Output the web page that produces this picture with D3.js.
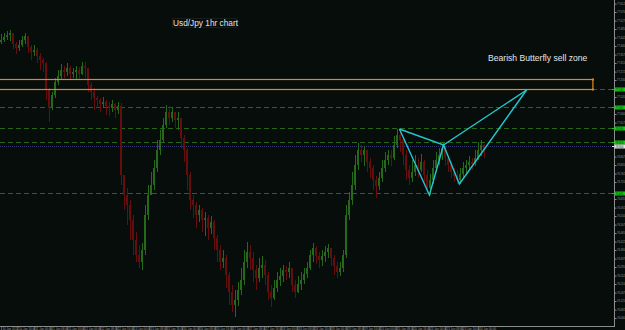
<!DOCTYPE html>
<html>
<head>
<meta charset="utf-8">
<style>
  body { margin: 0; background: #070d0b; }
  svg { display: block; font-family: 'Liberation Sans', Arial, sans-serif; }
</style>
</head>
<body>
<svg width="625" height="330"></svg>

<script src="https://d3js.org/d3.v7.min.js"></script>
<script>
// hourly bars
const firstOpen = 77.420;
const closes = [
  77.430, 77.445, 77.455, 77.465, 77.410, 77.390, 77.405, 77.430, 77.450, 77.395,
  77.370, 77.380, 77.350, 77.330, 77.315, 77.180, 77.090, 77.155, 77.220, 77.250,
  77.280, 77.270, 77.290, 77.260, 77.270, 77.280, 77.260, 77.300, 77.290, 77.205,
  77.170, 77.140, 77.130, 77.110, 77.120, 77.100, 77.090, 77.110, 77.080, 77.100,
  76.755, 76.655, 76.605, 76.530, 76.430, 76.355, 76.320, 76.380, 76.555, 76.655,
  76.705, 76.790, 76.880, 76.930, 77.005, 77.070, 77.040, 77.070, 77.030, 77.040,
  76.940, 76.880, 76.755, 76.630, 76.605, 76.555, 76.580, 76.530, 76.540, 76.490,
  76.520, 76.440, 76.380, 76.320, 76.340, 76.255, 76.170, 76.105, 76.130, 76.180,
  76.230, 76.320, 76.370, 76.340, 76.280, 76.240, 76.290, 76.305, 76.255, 76.170,
  76.140, 76.190, 76.230, 76.250, 76.280, 76.270, 76.290, 76.205, 76.170, 76.210,
  76.230, 76.260, 76.290, 76.355, 76.390, 76.350, 76.330, 76.350, 76.370, 76.390,
  76.340, 76.300, 76.270, 76.290, 76.355, 76.555, 76.630, 76.705, 76.805, 76.880,
  76.855, 76.880, 76.820, 76.790, 76.730, 76.700, 76.740, 76.790, 76.830, 76.855,
  76.840, 76.905, 76.955, 76.930, 76.855, 76.780, 76.740, 76.770, 76.805, 76.780,
  76.820, 76.755, 76.690, 76.730, 76.790, 76.830, 76.855, 76.890, 76.840, 76.805,
  76.770, 76.750, 76.730, 76.760, 76.790, 76.805, 76.820, 76.810, 76.840, 76.880,
  76.905, 76.870
];
const highs = [
  77.460, 77.465, 77.475, 77.480, 77.450, 77.420, 77.430, 77.450, 77.465, 77.445,
  77.405, 77.405, 77.390, 77.365, 77.340, 77.320, 77.190, 77.170, 77.240, 77.280,
  77.310, 77.300, 77.315, 77.300, 77.290, 77.300, 77.295, 77.320, 77.320, 77.280,
  77.220, 77.190, 77.150, 77.140, 77.145, 77.130, 77.120, 77.130, 77.115, 77.120,
  77.115, 76.740, 76.690, 76.630, 76.555, 76.470, 76.405, 76.415, 76.605, 76.705,
  76.770, 76.830, 76.930, 76.980, 77.040, 77.105, 77.100, 77.090, 77.070, 77.070,
  77.040, 76.955, 76.890, 76.770, 76.655, 76.620, 76.605, 76.590, 76.570, 76.555,
  76.550, 76.530, 76.455, 76.405, 76.380, 76.355, 76.270, 76.205, 76.180, 76.220,
  76.290, 76.380, 76.420, 76.405, 76.370, 76.305, 76.340, 76.350, 76.330, 76.270,
  76.205, 76.230, 76.270, 76.290, 76.305, 76.300, 76.320, 76.290, 76.230, 76.250,
  76.270, 76.290, 76.320, 76.380, 76.415, 76.400, 76.370, 76.380, 76.400, 76.410,
  76.390, 76.355, 76.320, 76.320, 76.380, 76.605, 76.670, 76.770, 76.855, 76.915,
  76.905, 76.900, 76.880, 76.840, 76.805, 76.750, 76.770, 76.830, 76.870, 76.880,
  76.880, 76.950, 76.985, 76.980, 76.940, 76.880, 76.805, 76.830, 76.855, 76.840,
  76.860, 76.830, 76.780, 76.760, 76.830, 76.870, 76.890, 76.905, 76.900, 76.855,
  76.820, 76.790, 76.780, 76.790, 76.820, 76.830, 76.850, 76.840, 76.880, 76.920,
  76.930, 76.910
];
const lows = [
  77.410, 77.420, 77.430, 77.425, 77.385, 77.360, 77.375, 77.395, 77.410, 77.365,
  77.330, 77.350, 77.315, 77.280, 77.270, 77.130, 77.020, 77.080, 77.140, 77.205,
  77.230, 77.240, 77.250, 77.230, 77.240, 77.235, 77.230, 77.255, 77.240, 77.170,
  77.130, 77.080, 77.090, 77.070, 77.090, 77.055, 77.050, 77.070, 77.040, 77.060,
  76.705, 76.580, 76.505, 76.430, 76.355, 76.320, 76.290, 76.280, 76.355, 76.530,
  76.655, 76.680, 76.770, 76.855, 76.920, 76.990, 77.005, 77.020, 76.990, 76.980,
  76.890, 76.820, 76.680, 76.580, 76.540, 76.490, 76.520, 76.470, 76.450, 76.430,
  76.460, 76.380, 76.320, 76.280, 76.290, 76.190, 76.105, 76.070, 76.045, 76.100,
  76.155, 76.205, 76.290, 76.280, 76.220, 76.180, 76.220, 76.240, 76.205, 76.130,
  76.095, 76.130, 76.170, 76.200, 76.220, 76.230, 76.240, 76.170, 76.140, 76.165,
  76.180, 76.210, 76.240, 76.280, 76.320, 76.310, 76.290, 76.300, 76.320, 76.340,
  76.300, 76.255, 76.240, 76.250, 76.270, 76.340, 76.530, 76.605, 76.680, 76.780,
  76.820, 76.800, 76.770, 76.740, 76.680, 76.640, 76.680, 76.720, 76.770, 76.805,
  76.800, 76.830, 76.890, 76.870, 76.805, 76.730, 76.705, 76.720, 76.750, 76.740,
  76.770, 76.705, 76.660, 76.655, 76.710, 76.770, 76.805, 76.830, 76.800, 76.770,
  76.740, 76.720, 76.710, 76.710, 76.740, 76.760, 76.780, 76.780, 76.800, 76.830,
  76.850, 76.840
];

const priceTicks = [
  77.612, 77.570, 77.527, 77.485, 77.442, 77.400, 77.357, 77.315, 77.272, 77.230,
  77.187, 77.145, 77.102, 77.060, 77.017, 76.975, 76.932, 76.890, 76.847, 76.805,
  76.762, 76.720, 76.677, 76.635, 76.592, 76.550, 76.507, 76.465, 76.422, 76.380,
  76.337, 76.295, 76.252, 76.210, 76.167, 76.125, 76.082, 76.040
];
const dateLabels = [
  "10 Jan 2012", "10 Jan 16:00", "11 Jan 00:00", "11 Jan 08:00", "11 Jan 16:00",
  "12 Jan 00:00", "12 Jan 08:00", "12 Jan 16:00", "13 Jan 00:00", "13 Jan 08:00",
  "13 Jan 16:00", "16 Jan 00:00", "16 Jan 08:00", "16 Jan 16:00", "17 Jan 00:00",
  "17 Jan 08:00", "17 Jan 16:00", "18 Jan 00:00", "18 Jan 08:00", "18 Jan 16:00",
  "19 Jan 00:00", "19 Jan 08:00", "19 Jan 16:00", "20 Jan 00:00", "20 Jan 08:00",
  "20 Jan 16:00", "23 Jan 00:00", "23 Jan 08:00", "23 Jan 16:00", "24 Jan 00:00"
];

// horizontal levels (dashed green) and the bid line
const levels = [77.1835, 77.095, 76.990, 76.920, 76.665];
const bidPrice = 76.900;

// sell zone rectangle
const zoneTop = 77.2325;
const zoneBottom = 77.1835;
const zoneEndBar = 197.3;

// butterfly pattern points (bar index, price)
const pointNames = ["X", "A", "B", "C", "D"];
const pointBars = [132.8, 142.8, 147.5, 152.8, 175.2];
const pointPrices = [76.985, 76.655, 76.905, 76.710, 77.180];

let width = 625;
let height = 330;
let plotRight = 614;
let plotBottom = 326;

let svg = d3.select("svg");

svg.append("rect")
    .attr("width", width)
    .attr("height", height)
    .style("fill", "#070d0b");

let y = d3.scaleLinear()
    .domain([76.00, 77.63])
    .range([plotBottom, 0]);

let x = d3.scaleLinear()
    .domain([0, closes.length - 1])
    .range([1, 1 + 3 * (closes.length - 1)]);

let plot = svg.append("g");

// level lines
plot.selectAll(".level")
    .data(levels)
    .join("line")
    .attr("x1", 0)
    .attr("x2", plotRight)
    .attr("y1", d => Math.round(y(d)) + 0.5)
    .attr("y2", d => Math.round(y(d)) + 0.5)
    .style("stroke", "#2b6518")
    .style("stroke-width", 1)
    .style("stroke-dasharray", "5,3");

// bid line
plot.append("line")
    .attr("x1", 0)
    .attr("x2", plotRight)
    .attr("y1", Math.round(y(bidPrice)) + 0.5)
    .attr("y2", Math.round(y(bidPrice)) + 0.5)
    .style("stroke", "#34346e")
    .style("stroke-width", 1)
    .style("stroke-dasharray", "1,1");

// candles
let bars = closes.map((c, i) => {
    let o = i ? closes[i - 1] : firstOpen;
    return { i: i, o: o, c: c, h: Math.max(highs[i], o, c), l: Math.min(lows[i], o, c) };
});

let candles = plot.selectAll(".candle")
    .data(bars)
    .join("g")
    .attr("class", "candle")
    .style("fill", d => d.c >= d.o ? "#246a18" : "#660d0d")
    .style("shape-rendering", "crispEdges");

candles.append("rect")
    .attr("x", d => x(d.i) - 0.5)
    .attr("width", 1)
    .attr("y", d => y(d.h))
    .attr("height", d => Math.max(1, y(d.l) - y(d.h)));

candles.append("rect")
    .attr("x", d => x(d.i) - 1)
    .attr("width", 2)
    .attr("y", d => y(Math.max(d.o, d.c)))
    .attr("height", d => Math.max(1, Math.abs(y(d.o) - y(d.c))));

// sell zone
let zx2 = x(zoneEndBar);
plot.append("rect")
    .attr("x", -2)
    .attr("y", Math.round(y(zoneTop)) + 0.5)
    .attr("width", zx2 + 2)
    .attr("height", Math.round(y(zoneBottom)) - Math.round(y(zoneTop)))
    .style("fill", "none")
    .style("stroke", "#d98d1f")
    .style("stroke-width", 1.2);

plot.selectAll(".handle")
    .data([zoneTop, zoneBottom])
    .join("rect")
    .attr("x", zx2 - 1)
    .attr("y", d => Math.round(y(d)) - 0.5)
    .attr("width", 2)
    .attr("height", 2)
    .style("fill", "#d98d1f");

// butterfly
let pts = pointBars.map((b, i) => [x(b), y(pointPrices[i])]);
let line = d3.line();

plot.append("path")
    .attr("d", line(pts))
    .style("fill", "none")
    .style("stroke", "#22c7cf")
    .style("stroke-width", 1.4);

plot.append("path")
    .attr("d", line([pts[0], pts[2], pts[4]]))
    .style("fill", "none")
    .style("stroke", "#22c7cf")
    .style("stroke-width", 1.4);

// texts
svg.append("rect")
    .attr("x", 172.5)
    .attr("y", 18.5)
    .attr("width", 64)
    .attr("height", 9)
    .style("fill", "none")
    .style("stroke", "#3a3a3a")
    .style("stroke-width", 0.7)
    .style("stroke-dasharray", "1,1");

svg.append("text")
    .attr("x", 173)
    .attr("y", 26)
    .text("Usd/Jpy 1hr chart")
    .style("fill", "#e4e4e4")
    .style("font-size", "8.3px");

svg.append("text")
    .attr("x", 488)
    .attr("y", 60.5)
    .text("Bearish Butterfly sell zone")
    .style("fill", "#e4e4e4")
    .style("font-size", "8.6px");

// price axis, skipping labels hidden under the level tags
let tagPrices = levels.concat([bidPrice]);
let freeTicks = priceTicks.filter(t => tagPrices.every(p => Math.abs(y(t) - y(p)) > 4));

let yAxis = d3.axisRight(y)
    .tickValues(freeTicks)
    .tickFormat(d3.format(".3f"))
    .tickSize(2)
    .tickPadding(0.5);

let ya = svg.append("g")
    .attr("transform", `translate(${plotRight + 0.5},0)`)
    .call(yAxis);

ya.select(".domain")
    .attr("d", `M0,0V${plotBottom}`)
    .style("stroke", "#8c8c8c");
ya.selectAll(".tick line").style("stroke", "#8c8c8c");
ya.selectAll(".tick text")
    .style("fill", "#9a9a9a")
    .style("font-size", "2.6px")
    .style("font-family", "'Liberation Sans', Arial, sans-serif");

// level labels on the axis
let tags = svg.selectAll(".tag")
    .data(levels.map(d => ({ v: d, fill: "#16c816" })).concat([{ v: bidPrice, fill: "#e2e2e2" }]))
    .join("g")
    .attr("transform", d => `translate(${plotRight},${Math.round(y(d.v)) + 0.5})`);

tags.append("rect")
    .attr("x", 0.5)
    .attr("y", -2)
    .attr("width", 10.5)
    .attr("height", 4)
    .style("fill", d => d.fill);

tags.append("rect")
    .attr("x", -2)
    .attr("y", -0.5)
    .attr("width", 2.5)
    .attr("height", 1)
    .style("fill", d => d.fill);

tags.append("text")
    .attr("x", 1.5)
    .attr("y", 1)
    .text(d => d3.format(".3f")(d.v))
    .style("fill", "#0b2a0b")
    .style("font-size", "2.6px");

// time axis
let xt = d3.scalePoint()
    .domain(dateLabels)
    .range([2, 479]);

svg.append("line")
    .attr("x1", 0)
    .attr("x2", plotRight + 1)
    .attr("y1", plotBottom + 0.5)
    .attr("y2", plotBottom + 0.5)
    .style("stroke", "#8c8c8c");

let xa = svg.selectAll(".date")
    .data(dateLabels)
    .join("g")
    .attr("transform", d => `translate(${xt(d)},${plotBottom})`);

xa.append("line")
    .attr("x1", -0.5)
    .attr("x2", -0.5)
    .attr("y1", 1)
    .attr("y2", 4)
    .style("stroke", "#8c8c8c")
    .style("stroke-width", 0.6);

xa.append("text")
    .attr("x", 0.5)
    .attr("y", 3.6)
    .text(d => d)
    .style("fill", "#9a9a9a")
    .style("font-size", "2.9px");
</script>
</body>
</html>
